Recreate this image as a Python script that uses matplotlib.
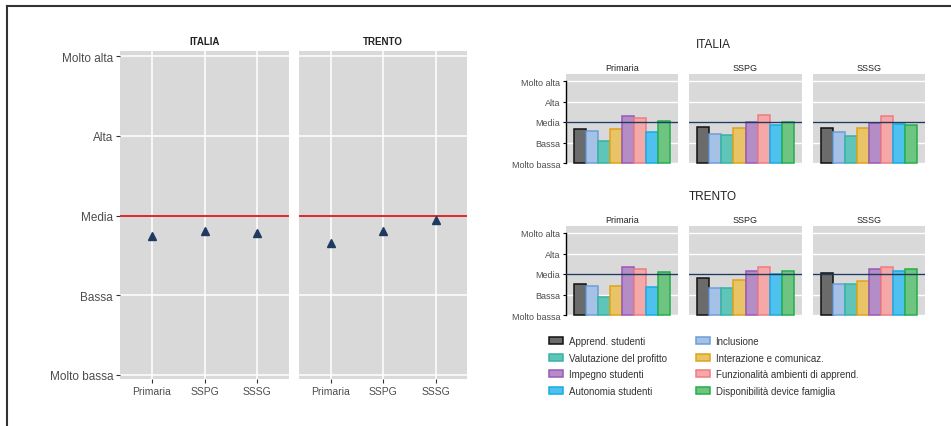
import matplotlib
matplotlib.use('Agg')
import matplotlib.pyplot as plt
from matplotlib.patches import Patch
from matplotlib.lines import Line2D

plt.rcParams['font.family'] = ['Liberation Sans', 'DejaVu Sans']

# data
regions = ['ITALIA', 'TRENTO']
schools = ['Primaria', 'SSPG', 'SSSG']
levels = ['Molto bassa', 'Bassa', 'Media', 'Alta', 'Molto alta']

overall_italia = [2.74, 2.80, 2.78]
overall_trento = [2.65, 2.81, 2.94]

indicators = ['Apprend. studenti', 'Inclusione', 'Valutazione del profitto',
              'Interazione e comunicaz.', 'Impegno studenti',
              'Funzionalità ambienti di apprend.', 'Autonomia studenti',
              'Disponibilità device famiglia']

# one list per school, values in the indicator order
italia_primaria = [2.64, 2.56, 2.08, 2.64, 3.28, 3.21, 2.49, 3.06]
italia_sspg = [2.77, 2.43, 2.35, 2.72, 3.00, 3.34, 2.85, 3.02]
italia_sssg = [2.72, 2.49, 2.30, 2.72, 2.95, 3.28, 2.92, 2.85]
trento_primaria = [2.51, 2.43, 1.89, 2.43, 3.36, 3.24, 2.37, 3.08]
trento_sspg = [2.79, 2.30, 2.30, 2.72, 3.15, 3.36, 2.98, 3.15]
trento_sssg = [3.07, 2.51, 2.51, 2.64, 3.24, 3.36, 3.15, 3.23]

fills = ['#6b6b6b', '#a5c2e6', '#5ec5b8', '#e8c467', '#b48dc6', '#f5a8a8', '#4fc1ee', '#6fc482']
edges = ['#111111', '#6b9edb', '#36b3a4', '#e0a318', '#9a59b6', '#ee7c84', '#17ace6', '#20b04b']

W, H = 951, 427
fig = plt.figure(figsize=(W / 100, H / 100), dpi=100)


def box(l, t, r, b):
    return [l / W, 1 - b / H, (r - l) / W, (b - t) / H]


# frame lines (top and left)
fig.add_artist(Line2D([6.5 / W, 6.5 / W], [0, 1 - 6.5 / H], transform=fig.transFigure, color='#333333', lw=1.5))
fig.add_artist(Line2D([6.5 / W, 1], [1 - 6.5 / H, 1 - 6.5 / H], transform=fig.transFigure, color='#333333', lw=1.5))

grey_bg = '#d9d9da'
lab_col = '#4d4d4d'

# ---------------- left chart ----------------
left_panels = [(120, 289), (299, 467)]
sc = 79.75
for i, (reg, vals) in enumerate(zip(regions, [overall_italia, overall_trento])):
    l, r = left_panels[i]
    ax = fig.add_axes(box(l, 52, r, 380))
    ax.set_facecolor(grey_bg)
    ax.set_xlim(0.4, 3.6)
    ax.set_ylim(1 - 4 / sc, 5 + 5 / sc)
    ax.set_xticks([1, 2, 3])
    ax.set_xticklabels(schools, fontsize=7.5, color=lab_col)
    ax.set_yticks([1, 2, 3, 4, 5])
    ax.tick_params(length=3, width=0.8, color='#333333', pad=2)
    if i == 0:
        ax.set_yticklabels(levels, fontsize=8.5, color=lab_col)
    else:
        ax.set_yticklabels([])
        ax.tick_params(axis='y', length=0)
    ax.grid(True, color='white', lw=1.1)
    ax.set_axisbelow(True)
    for s in ax.spines.values():
        s.set_visible(False)
    ax.axhline(3, color='#e0262a', lw=1.4)
    ax.plot([1, 2, 3], vals, linestyle='none', marker='^', markersize=6, color='#1f3a5e')
    ax.set_title(reg, fontsize=7, fontweight='bold', color='#222222', pad=5)

# ---------------- right chart ----------------
right_panels = [(566, 678), (689, 802), (813, 925)]
bar_data = {'ITALIA': [italia_primaria, italia_sspg, italia_sssg],
            'TRENTO': [trento_primaria, trento_sspg, trento_sssg]}
tops = {'ITALIA': 75, 'TRENTO': 227}
rsc = 20.5
xs = list(range(len(indicators)))
for reg in regions:
    top = tops[reg]
    bottom = top + 90
    fig.text(713 / W, 1 - (top - 30) / H, reg, fontsize=8.5, color='#222222', ha='center', va='center')
    for j, (l, r) in enumerate(right_panels):
        ax = fig.add_axes(box(l, top, r, bottom))
        ax.set_facecolor(grey_bg)
        ax.set_xlim(-1.17, 8.17)
        ax.set_ylim(1 - 1 / rsc, 5 + 7 / rsc)
        vals = bar_data[reg][j]
        ax.bar(xs, [v - 1 for v in vals], bottom=1, width=1.0, color=fills,
               edgecolor=edges, linewidth=1.1, zorder=2)
        ax.axhline(3, color='#1f3a5e', lw=1.0, zorder=3)
        ax.set_yticks([1, 2, 3, 4, 5])
        ax.grid(True, axis='y', color='white', lw=1.0)
        ax.set_axisbelow(True)
        ax.set_xticks([])
        for s in ax.spines.values():
            s.set_visible(False)
        if j == 0:
            ax.spines['left'].set_visible(True)
            ax.spines['left'].set_bounds(1, 5)
            ax.spines['left'].set_linewidth(1.0)
            ax.set_yticklabels(levels, fontsize=6.5, color=lab_col)
            ax.tick_params(axis='y', length=2.5, width=0.8, pad=1.5)
        else:
            ax.set_yticklabels([])
            ax.tick_params(axis='y', length=0)
        ax.set_title(schools[j], fontsize=6.5, color='#222222', pad=3)

# legend: filled row by row in the reference
handles = [Patch(facecolor=f, edgecolor=e, linewidth=1.1, label=n)
           for f, e, n in zip(fills, edges, indicators)]
order = [0, 2, 4, 6, 1, 3, 5, 7]
fig.legend([handles[k] for k in order], [indicators[k] for k in order],
           ncol=2, loc='upper left', bbox_to_anchor=(549 / W, 1 - 337 / H),
           frameon=False, fontsize=7, handlelength=1.45, handleheight=0.7,
           handletextpad=0.6, labelspacing=0.68, columnspacing=2.95,
           borderpad=0, borderaxespad=0, labelcolor='#333333')

fig.savefig('out.png', dpi=100, facecolor='white')
